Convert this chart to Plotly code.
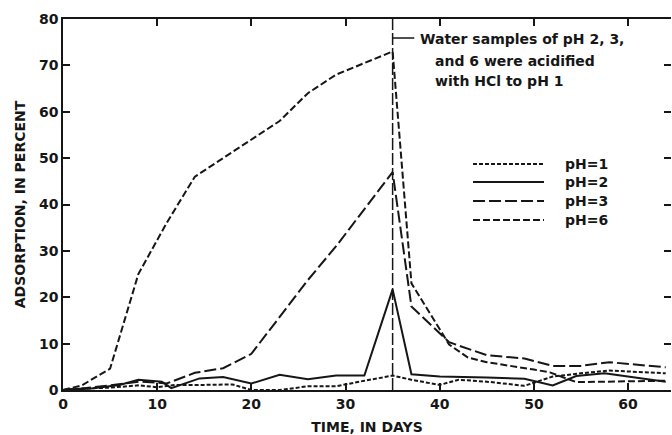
import plotly.graph_objects as go

# ---- data ----
ph1_days = [0, 2, 5, 8, 10, 12, 15, 18, 20, 23, 26, 29, 32, 35, 37, 40, 42, 45, 49, 52, 55, 58, 64]
ph1_vals = [0, 0.3, 0.5, 1.0, 0.6, 1.1, 1.1, 1.2, 0.0, 0.0, 0.8, 0.8, 2.0, 3.1, 2.2, 1.1, 2.2, 1.8, 0.9, 2.9, 3.6, 4.2, 3.6]

ph2_days = [0, 3, 6, 8, 10.5, 11.5, 14.5, 17, 20, 23, 26, 29, 32, 35, 37, 40, 45, 49, 52, 54.5, 57.5, 64]
ph2_vals = [0, 0.3, 1.1, 2.2, 1.8, 0.4, 2.5, 2.8, 1.4, 3.3, 2.3, 3.1, 3.1, 21.7, 3.4, 2.9, 2.7, 2.4, 1.0, 3.0, 3.6, 1.8]

ph3_days = [0, 2, 5, 8, 10, 11, 14, 17, 20, 23, 26, 29, 32, 35, 37, 41, 45, 49, 52, 55, 58, 64]
ph3_vals = [0, 0.3, 1.0, 1.8, 1.6, 1.4, 3.7, 4.7, 7.8, 15.8, 23.7, 31, 39, 47, 18, 10.3, 7.5, 6.8, 5.2, 5.2, 6.0, 4.9]

ph6_days = [0, 2, 5, 8, 11, 14, 17, 20, 23, 26, 29, 32, 35, 37, 41, 43, 45, 50, 51.7, 54.5, 58, 64]
ph6_vals = [0, 1.0, 4.6, 25, 36, 46, 50, 54, 58, 64, 68, 70.5, 73, 23, 9.8, 7.0, 6.0, 4.4, 3.8, 1.7, 1.8, 2.0]

acid_day = 35
series_names = ["pH=1", "pH=2", "pH=3", "pH=6"]
x_ticks = [0, 10, 20, 30, 40, 50, 60]
y_ticks = [0, 10, 20, 30, 40, 50, 60, 70, 80]

INK = "#161616"
FONT = "DejaVu Sans"
dashes = {"pH=1": "4px,2px", "pH=2": "solid", "pH=3": "12px,4px", "pH=6": "7px,3px"}

fig = go.Figure()
for name, xs, ys in [("pH=1", ph1_days, ph1_vals), ("pH=2", ph2_days, ph2_vals),
                     ("pH=3", ph3_days, ph3_vals), ("pH=6", ph6_days, ph6_vals)]:
    fig.add_trace(go.Scatter(x=xs, y=ys, mode="lines", name=name, showlegend=False,
                             line=dict(color=INK, width=2, dash=dashes[name])))

# vertical marker (acidification day), drawn on a right-side overlay axis
fig.add_trace(go.Scatter(x=[acid_day, acid_day], y=[0, 80], mode="lines", yaxis="y2",
                         showlegend=False, hoverinfo="skip",
                         line=dict(color=INK, width=1.5, dash="12px,3px")))

axis_common = dict(showgrid=False, zeroline=False, linecolor=INK, linewidth=1.5,
                   ticks="inside", ticklen=7, tickwidth=1.5, tickcolor=INK,
                   tickfont=dict(family=FONT, size=14, color=INK, weight="bold"))

fig.update_layout(
    width=672, height=435,
    margin=dict(l=63, r=1, t=19, b=45),
    paper_bgcolor="white", plot_bgcolor="white",
    xaxis=dict(range=[0, 64.56], tickvals=x_ticks, showline=True, mirror="ticks",
               title=dict(text="TIME, IN DAYS", standoff=14,
                          font=dict(family=FONT, size=14, color=INK, weight="bold")),
               **axis_common),
    yaxis=dict(range=[0, 80], tickvals=y_ticks, showline=True, mirror=False,
               title=dict(text="ADSORPTION, IN PERCENT", standoff=10,
                          font=dict(family=FONT, size=14, color=INK, weight="bold")),
               **axis_common),
    yaxis2=dict(range=[0, 80], tickvals=y_ticks, overlaying="y", side="right",
                showline=False, showticklabels=False, showgrid=False, zeroline=False,
                ticks="inside", ticklen=7, tickwidth=1.5, tickcolor=INK),
    showlegend=False,
)

# annotation bracket + text
fig.add_shape(type="line", xref="x", yref="y", x0=acid_day, x1=acid_day + 2.3, y0=75.9, y1=75.9,
              line=dict(color=INK, width=1.5))
ann_font = dict(family=FONT, size=14, color=INK, weight="bold")
for txt, xv, yv in [("Water samples of pH 2, 3,", 37.7, 75.7),
                    ("and 6 were acidified", 39.3, 70.9),
                    ("with HCl to pH 1", 39.3, 66.7)]:
    fig.add_annotation(x=xv, y=yv, xref="x", yref="y", text=txt, showarrow=False,
                       xanchor="left", yanchor="middle", font=ann_font)

# manual legend (long sample lines)
W, H = 608.0, 371.0
leg_rows = [164, 182, 201, 220]
for name, py in zip(series_names, leg_rows):
    yp = (390 - py) / H
    fig.add_shape(type="line", xref="paper", yref="paper",
                  x0=(473 - 63) / W, x1=(544 - 63) / W, y0=yp, y1=yp,
                  line=dict(color=INK, width=2, dash=dashes[name]))
    fig.add_annotation(x=(563 - 63) / W, y=yp, xref="paper", yref="paper", text=name,
                       showarrow=False, xanchor="left", yanchor="middle", font=ann_font)

fig.write_html("out.html")
